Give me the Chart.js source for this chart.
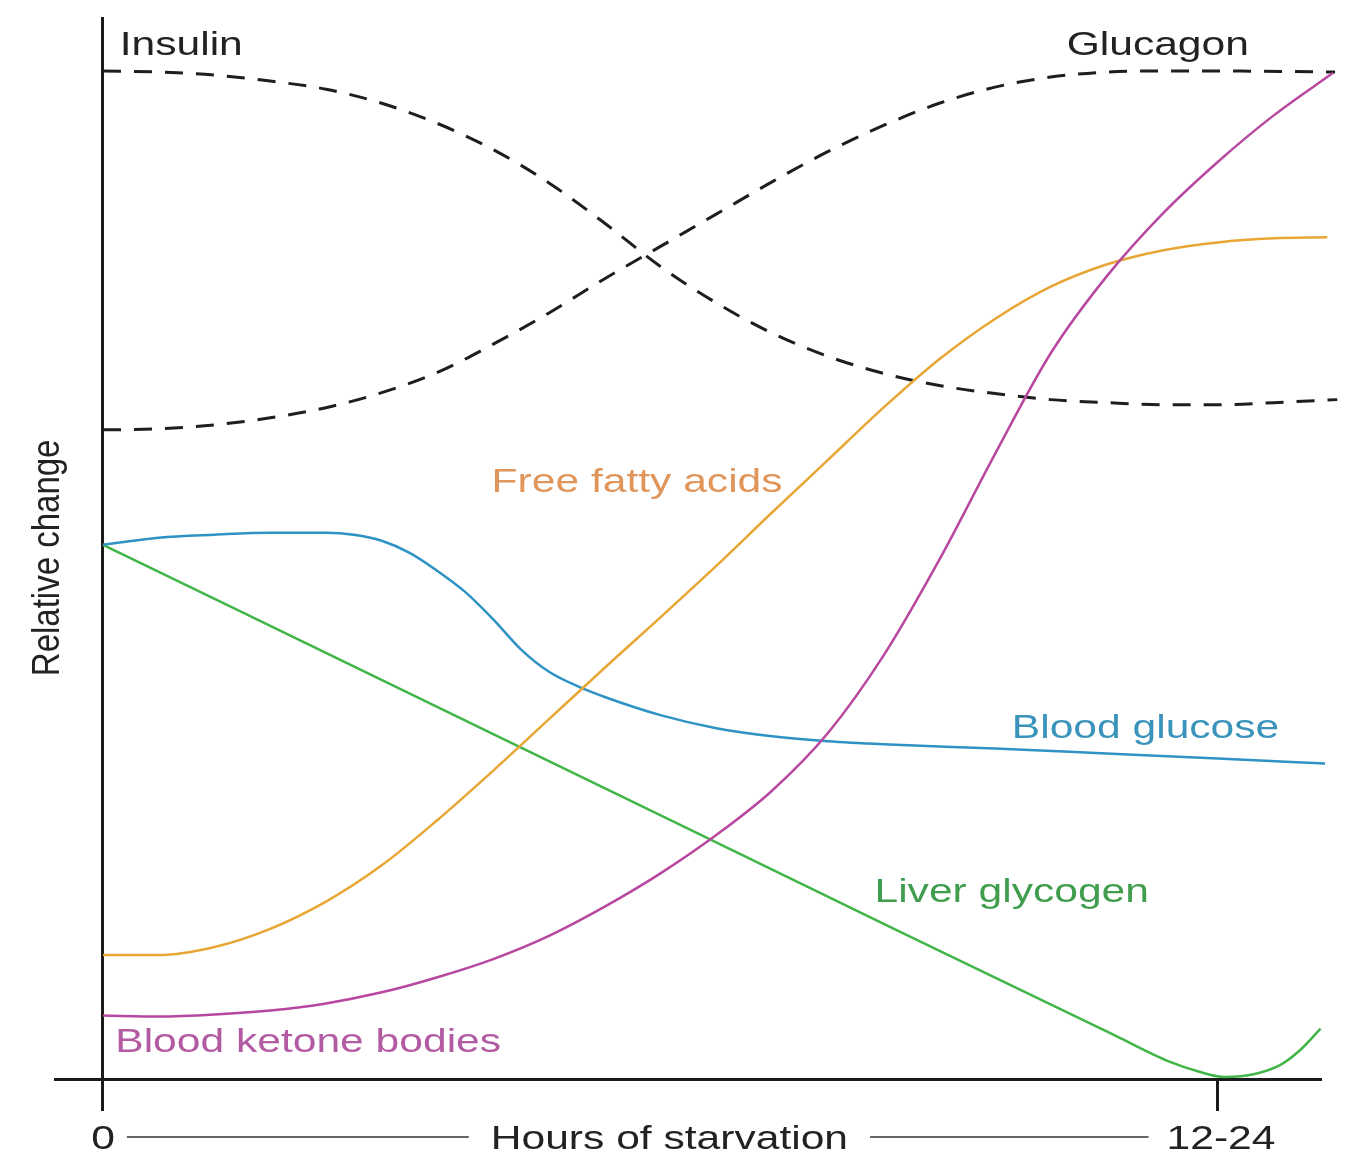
<!DOCTYPE html>
<html lang="en">
<head>
    <meta charset="UTF-8">
    <title>Hours of starvation</title>
    <script src="https://cdn.jsdelivr.net/npm/chart.js"></script>
    <style>
        html, body { margin: 0; padding: 0; background: #fff; }
        canvas { display: block; }
    </style>
</head>
<body>
    <canvas id="starvation" width="1348" height="1160"></canvas>
</body>

<script>

// x: hours of starvation (0 .. 100 = "12-24"), y: relative change (0 .. 100)
const tickHours = [0, 100];
const tickText  = ['0', '12-24'];

const insulinX  = [0, 5, 10, 15, 20, 25, 30, 35, 40, 45, 50, 55, 60, 65, 70, 75, 80, 85, 90, 95, 100, 105, 110.7];
const insulinY  = [100, 99.9, 99.6, 99.0, 98.2, 96.8, 94.8, 92.2, 88.9, 84.9, 80.6, 77.0, 74.0, 71.7, 70.0, 68.8, 68.0, 67.4, 67.1, 66.9, 66.9, 67.1, 67.4];

const glucagonX = [0, 5, 10, 15, 20, 25, 30, 35, 40, 45, 50, 55, 60, 65, 70, 75, 80, 85, 90, 95, 100, 110.5];
const glucagonY = [64.4, 64.5, 64.9, 65.6, 66.6, 68.1, 70.1, 72.9, 76.0, 79.4, 82.6, 85.8, 89.0, 92.0, 94.6, 96.8, 98.4, 99.4, 99.9, 100.0, 100.0, 99.9];

const ffaX      = [0, 5, 10, 15, 20, 25, 30, 35, 40, 45, 50, 55, 60, 65, 70, 75, 80, 85, 90, 95, 100, 105, 109.8];
const ffaY      = [12.3, 12.3, 13.1, 14.9, 17.6, 21.2, 25.7, 30.6, 35.7, 40.8, 45.8, 50.9, 56.2, 61.4, 66.6, 71.4, 75.4, 78.6, 80.8, 82.2, 83.0, 83.4, 83.5];

const glucoseX  = [0, 5, 10, 15, 20, 22.5, 25, 27.5, 30, 32.5, 35, 37.5, 40, 42.5, 45, 50, 55, 60, 65, 70, 80, 90, 100, 109.6];
const glucoseY  = [53.0, 53.7, 54.0, 54.2, 54.2, 54.0, 53.4, 52.2, 50.4, 48.3, 45.6, 42.6, 40.4, 39.0, 37.9, 36.1, 34.8, 34.0, 33.5, 33.2, 32.8, 32.3, 31.8, 31.3];

const glycogenX = [0, 35.6, 71.5, 90.8, 95.7, 98.4, 100.6, 103.3, 105.6, 107.4, 109.2];
const glycogenY = [53.0, 33.9, 14.6, 4.3, 1.7, 0.7, 0.2, 0.5, 1.4, 2.9, 5.0];

const ketoneX   = [0, 5, 10, 15, 20, 25, 30, 35, 40, 45, 50, 55, 60, 65, 70, 75, 80, 85, 90, 95, 100, 105, 110.3];
const ketoneY   = [6.3, 6.2, 6.4, 6.8, 7.5, 8.6, 10.1, 11.9, 14.2, 17.1, 20.4, 24.2, 28.6, 34.3, 42.0, 51.5, 62.0, 72.0, 79.6, 85.8, 91.0, 95.6, 99.8];

// curve names written next to the curves
const curveLabels = [
    { text: 'Insulin',             x: 1.5,  y: 101.6, align: 'left',   color: '#222222' },
    { text: 'Glucagon',            x: 94.6, y: 101.6, align: 'center', color: '#222222' },
    { text: 'Free fatty acids',    x: 47.9, y: 58.2,  align: 'center', color: '#e0955a' },
    { text: 'Blood glucose',       x: 93.5, y: 33.8,  align: 'center', color: '#3a93bb' },
    { text: 'Liver glycogen',      x: 81.5, y: 17.6,  align: 'center', color: '#3f9d4d' },
    { text: 'Blood ketone bodies', x: 1.1,  y: 2.7,   align: 'left',   color: '#b25aa2' }
];

const zip = (xs, ys) => xs.map((x, i) => ({ x: x, y: ys[i] }));

const FONT = '33px "Liberation Sans", Arial, sans-serif';
const STRETCH = 1.29;

// text is drawn a little wider than the font, like the rest of the figure
function wideText(ctx, text, x, y, align, color, angle, stretch) {
    ctx.save();
    ctx.translate(x, y);
    ctx.scale(stretch || STRETCH, 1);
    if (angle) ctx.rotate(angle);
    ctx.font = FONT;
    ctx.fillStyle = color;
    ctx.textAlign = align;
    ctx.textBaseline = 'alphabetic';
    ctx.fillText(text, 0, 0);
    ctx.restore();
}

const textPlugin = {
    id: 'textPlugin',
    afterDraw(chart) {
        const ctx = chart.ctx;
        const xs = chart.scales.x;
        const ys = chart.scales.y;

        curveLabels.forEach(l => {
            wideText(ctx, l.text, xs.getPixelForValue(l.x), ys.getPixelForValue(l.y), l.align, l.color);
        });

        // axis titles and tick labels
        wideText(ctx, 'Relative change', 59, ys.getPixelForValue(51.7), 'center', '#222222', -Math.PI / 2, 1.18);

        const base = chart.chartArea.bottom + 70;
        ctx.save();
        ctx.font = FONT;
        const w = t => ctx.measureText(t).width * STRETCH;
        const title = 'Hours of starvation';
        const tx = xs.getPixelForValue(50.8);
        const x0 = xs.getPixelForValue(tickHours[0]);
        const x1 = xs.getPixelForValue(tickHours[1]) + 3;
        const w0 = w(tickText[0]), w1 = w(tickText[1]), wt = w(title);
        ctx.restore();

        wideText(ctx, tickText[0], x0, base, 'center', '#222222');
        wideText(ctx, tickText[1], x1, base, 'center', '#222222');
        wideText(ctx, title, tx, base, 'center', '#222222');

        ctx.save();
        ctx.strokeStyle = '#666666';
        ctx.lineWidth = 2;
        ctx.beginPath();
        ctx.moveTo(x0 + w0 / 2 + 12, base - 12);
        ctx.lineTo(tx - wt / 2 - 22, base - 12);
        ctx.moveTo(tx + wt / 2 + 22, base - 12);
        ctx.lineTo(x1 - w1 / 2 - 18, base - 12);
        ctx.stroke();
        ctx.restore();
    }
};

const line = (label, data, color, dashed) => ({
    label: label,
    data: data,
    borderColor: color,
    borderWidth: dashed ? 3 : 2.5,
    borderDash: dashed ? [18, 13] : [],
    pointRadius: 0,
    cubicInterpolationMode: 'monotone',
    clip: false,
    fill: false
});

new Chart(document.getElementById('starvation'), {
    type: 'line',
    data: {
        datasets: [
            line('Blood ketone bodies', zip(ketoneX, ketoneY), '#b8479f', false),
            line('Free fatty acids', zip(ffaX, ffaY), '#e8a635', false),
            line('Blood glucose', zip(glucoseX, glucoseY), '#2e93c4', false),
            line('Liver glycogen', zip(glycogenX, glycogenY), '#41b548', false),
            line('Insulin', zip(insulinX, insulinY), '#1e1e1e', true),
            line('Glucagon', zip(glucagonX, glucagonY), '#1e1e1e', true)
        ]
    },
    options: {
        responsive: false,
        animation: false,
        devicePixelRatio: 1,
        layout: { padding: { left: 55, right: 28, top: 17, bottom: 49 } },
        plugins: {
            legend: { display: false },
            tooltip: { enabled: false }
        },
        scales: {
            x: {
                type: 'linear',
                min: -4.305,
                max: 109.15,
                afterBuildTicks: s => { s.ticks = tickHours.map(v => ({ value: v })); },
                ticks: { display: false },
                grid: {
                    color: c => (c.tick && c.tick.value === 0) ? '#1a1a1a' : 'rgba(0,0,0,0)',
                    tickColor: '#1a1a1a',
                    lineWidth: 3,
                    tickLength: 32
                },
                border: { display: true, color: '#1a1a1a', width: 3 }
            },
            y: {
                type: 'linear',
                min: 0,
                max: 105.36,
                display: false
            }
        }
    },
    plugins: [textPlugin]
});

</script>
</html>
